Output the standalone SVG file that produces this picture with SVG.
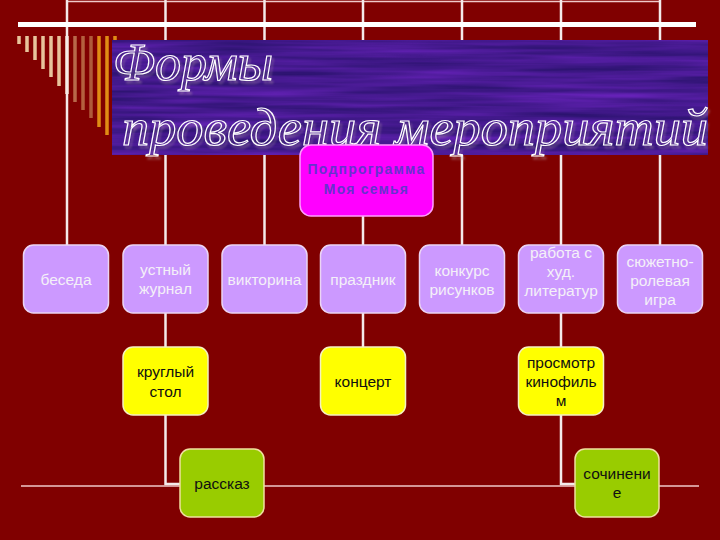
<svg xmlns="http://www.w3.org/2000/svg" width="720" height="540" viewBox="0 0 720 540">
  <defs>
    <filter id="tex" x="0" y="0" width="100%" height="100%" color-interpolation-filters="sRGB">
      <feTurbulence type="fractalNoise" baseFrequency="0.006 0.14" numOctaves="3" seed="7" result="n"/>
      <feColorMatrix in="n" type="matrix" values="0.32 0 0 0 0.11  0.08 0 0 0 0.06  0.40 0 0 0 0.36  0 0 0 0 1"/>
    </filter>
    <filter id="shadow" x="-5%" y="-20%" width="110%" height="150%" color-interpolation-filters="sRGB">
      <feGaussianBlur in="SourceAlpha" stdDeviation="1.2"/>
      <feOffset dx="1.5" dy="3" result="b"/>
      <feFlood flood-color="#b8a0a8" flood-opacity="0.45"/>
      <feComposite in2="b" operator="in" result="s"/>
      <feMerge><feMergeNode in="s"/><feMergeNode in="SourceGraphic"/></feMerge>
    </filter>
  </defs>
  <style>
    .ln { stroke: #f4eaea; stroke-width: 2.5; fill: none; }
    .thin { stroke: #f0c8c8; stroke-width: 1.5; fill: none; }
    .lav rect { fill: #cc99ff; stroke: #ecd4f4; stroke-width: 1.5; }
    .yel rect { fill: #ffff00; stroke: #f4f0c0; stroke-width: 1.5; }
    .grn rect { fill: #99cc00; stroke: #f0e0a0; stroke-width: 1.5; }
    .lav text { fill: #f4f0f8; }
    .yel text, .grn text { fill: #101010; }
    text { font-family: "Liberation Sans", Arial, sans-serif; font-size: 15.5px; text-anchor: middle; }
    .title { font-family: "Liberation Serif", "Times New Roman", serif; font-style: italic; font-size: 52px; fill: none; stroke: #ffffff; stroke-width: 1.2; text-anchor: start; }
    .root { font-weight: bold; font-size: 14px; letter-spacing: 1.2px; fill: #6633cc; }
    .stripe { stroke-width: 3.5; }
  </style>
  <rect x="0" y="0" width="720" height="540" fill="#800000"/>

  <!-- decorative stripes -->
  <g id="stripes">
    <line class="stripe" x1="19" y1="36" x2="19" y2="44" stroke="#e8c49c"/>
    <line class="stripe" x1="27" y1="36" x2="27" y2="52" stroke="#e8c49c"/>
    <line class="stripe" x1="35" y1="36" x2="35" y2="60" stroke="#e8c49c"/>
    <line class="stripe" x1="43" y1="36" x2="43" y2="69" stroke="#e8c49c"/>
    <line class="stripe" x1="51" y1="36" x2="51" y2="77" stroke="#e8c49c"/>
    <line class="stripe" x1="59" y1="36" x2="59" y2="86" stroke="#e8c49c"/>
    <line class="stripe" x1="67" y1="36" x2="67" y2="94" stroke="#f4dcc4"/>
    <line class="stripe" x1="75" y1="36" x2="75" y2="102" stroke="#b8684a"/>
    <line class="stripe" x1="83" y1="36" x2="83" y2="110" stroke="#b4603e"/>
    <line class="stripe" x1="91" y1="36" x2="91" y2="118" stroke="#b05a3a"/>
    <line class="stripe" x1="99" y1="36" x2="99" y2="127" stroke="#e08c14"/>
    <line class="stripe" x1="107" y1="36" x2="107" y2="135" stroke="#e08c14"/>
    <line class="stripe" x1="115" y1="36" x2="115" y2="143" stroke="#e08c14"/>
  </g>

  <g id="connectors">
    <line class="thin" x1="67" y1="1.5" x2="660" y2="1.5"/>
    <line class="ln" x1="67" y1="0" x2="67" y2="245"/>
    <line class="ln" x1="165.5" y1="0" x2="165.5" y2="245"/>
    <line class="ln" x1="264.5" y1="0" x2="264.5" y2="245"/>
    <line class="ln" x1="363" y1="0" x2="363" y2="245"/>
    <line class="ln" x1="462" y1="0" x2="462" y2="245"/>
    <line class="ln" x1="561" y1="0" x2="561" y2="245"/>
    <line class="ln" x1="660" y1="0" x2="660" y2="245"/>
    <line x1="18" y1="24.5" x2="696" y2="24.5" stroke="#ffffff" stroke-width="5"/>
    <line class="ln" x1="165.5" y1="313" x2="165.5" y2="347"/>
    <line class="ln" x1="363" y1="313" x2="363" y2="347"/>
    <line class="ln" x1="561" y1="313" x2="561" y2="347"/>
    <polyline class="ln" points="165.5,415 165.5,484 181,484"/>
    <polyline class="ln" points="561,415 561,484 576,484"/>
    <line class="thin" x1="21" y1="486" x2="699" y2="486"/>
  </g>

  <g id="banner">
    <rect x="112" y="40" width="596" height="115" fill="#4a1a90"/>
    <rect x="112" y="40" width="596" height="115" filter="url(#tex)"/>
    <g filter="url(#shadow)">
      <text class="title" x="113" y="80" textLength="160" lengthAdjust="spacingAndGlyphs">Формы</text>
      <text class="title" x="122" y="145" textLength="586" lengthAdjust="spacingAndGlyphs">проведения мероприятий</text>
    </g>
  </g>

  <g id="n-root">
    <rect x="300" y="145" width="133" height="71" rx="11" fill="#ff00ff" stroke="#ff9cff" stroke-width="1.5"/>
    <text class="root" x="366.5" y="174">Подпрограмма</text>
    <text class="root" x="366.5" y="194">Моя семья</text>
  </g>

  <g id="n-beseda" class="lav">
    <rect x="23.5" y="245" width="85" height="68" rx="10"/>
    <text x="66" y="285">беседа</text>
  </g>
  <g id="n-zhurnal" class="lav">
    <rect x="123" y="245" width="85" height="68" rx="10"/>
    <text x="165.5" y="275">устный</text>
    <text x="165.5" y="294">журнал</text>
  </g>
  <g id="n-viktorina" class="lav">
    <rect x="222" y="245" width="85" height="68" rx="10"/>
    <text x="264.5" y="285">викторина</text>
  </g>
  <g id="n-prazdnik" class="lav">
    <rect x="320.5" y="245" width="85" height="68" rx="10"/>
    <text x="363" y="285">праздник</text>
  </g>
  <g id="n-konkurs" class="lav">
    <rect x="419.5" y="245" width="85" height="68" rx="10"/>
    <text x="462" y="276">конкурс</text>
    <text x="462" y="295">рисунков</text>
  </g>
  <g id="n-rabota" class="lav">
    <rect x="518.5" y="245" width="85" height="68" rx="10"/>
    <text x="561" y="258">работа с</text>
    <text x="561" y="277">худ.</text>
    <text x="561" y="296">литератур</text>
  </g>
  <g id="n-syuzhet" class="lav">
    <rect x="617.5" y="245" width="85" height="68" rx="10"/>
    <text x="660" y="267">сюжетно-</text>
    <text x="660" y="286">ролевая</text>
    <text x="660" y="305">игра</text>
  </g>

  <g id="n-kruglyi" class="yel">
    <rect x="123" y="347" width="85" height="68" rx="10"/>
    <text x="165.5" y="377">круглый</text>
    <text x="165.5" y="397">стол</text>
  </g>
  <g id="n-koncert" class="yel">
    <rect x="320.5" y="347" width="85" height="68" rx="10"/>
    <text x="363" y="387">концерт</text>
  </g>
  <g id="n-prosmotr" class="yel">
    <rect x="518.5" y="347" width="85" height="68" rx="10"/>
    <text x="561" y="368">просмотр</text>
    <text x="561" y="387">кинофиль</text>
    <text x="561" y="406">м</text>
  </g>

  <g id="n-rasskaz" class="grn">
    <rect x="180" y="449" width="84" height="68" rx="10"/>
    <text x="222" y="489">рассказ</text>
  </g>
  <g id="n-sochinenie" class="grn">
    <rect x="575" y="449" width="84" height="68" rx="10"/>
    <text x="617" y="479">сочинени</text>
    <text x="617" y="498">е</text>
  </g>
</svg>
